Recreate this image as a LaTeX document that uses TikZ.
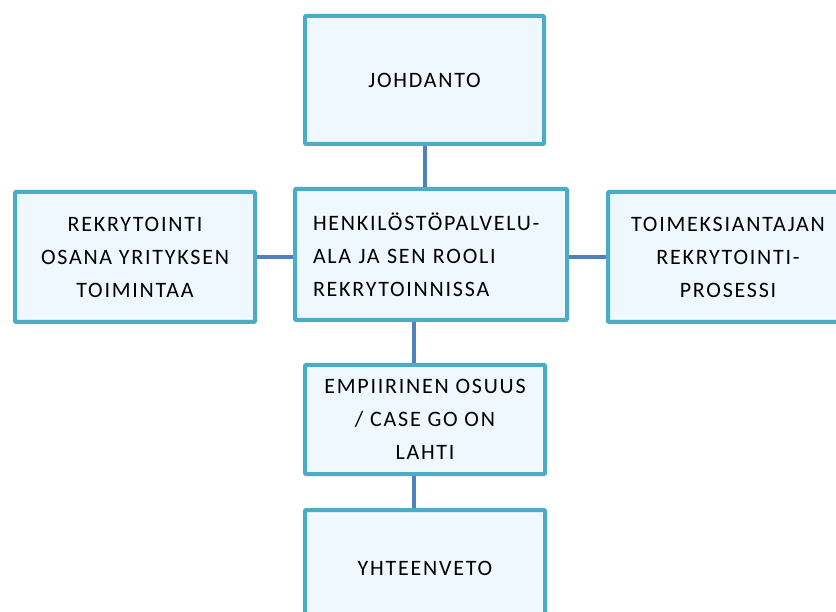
\documentclass[tikz,border=0pt]{standalone}
\usepackage{fontspec}
\setmainfont{Carlito}[LetterSpace=8]
\definecolor{boxline}{HTML}{4BACC6}
\definecolor{boxfill}{HTML}{EEF8FE}
\definecolor{linkline}{HTML}{4F81BD}

\begin{document}
\begin{tikzpicture}[x=1pt,y=-1pt,
    part/.style={draw=boxline, fill=boxfill, line width=4pt, rounded corners=1pt,
      align=center, inner sep=0pt, font=\fontsize{22}{33}\selectfont},
    link/.style={draw=linkline, line width=4pt}]

  \useasboundingbox (0,0) rectangle (836,612);

  \node (johdanto) [part, minimum width=239, minimum height=128] at (424.5,80) {JOHDANTO};
  \node (rekry)    [part, minimum width=240, minimum height=130] at (135,257)
    {REKRYTOINTI\\OSANA YRITYKSEN\\TOIMINTAA};
  \node (henk)     [part, minimum width=272, minimum height=131, align=left,
                    text width=236, inner xsep=18pt] at (431,254.5)
    {HENKILÖSTÖPALVELU-\\ALA JA SEN ROOLI\\REKRYTOINNISSA};
  \node (toim)     [part, minimum width=240, minimum height=130] at (728,257)
    {TOIMEKSIANTAJAN\\REKRYTOINTI-\\PROSESSI};
  \node (empi)     [part, minimum width=240, minimum height=109] at (425,419.5)
    {EMPIIRINEN OSUUS\\/ CASE GO ON\\LAHTI};
  \node (yht)      [part, minimum width=240, minimum height=116] at (425,568)
    {YHTEENVETO};

  %% -- links
  \draw[link] (johdanto.south) -- (johdanto.south |- henk.north);
  \draw[link] (rekry.east) -- (rekry.east -| henk.west);
  \draw[link] (toim.west) -- (toim.west -| henk.east);
  \draw[link] ([xshift=-11pt]empi.north) -- ([xshift=-11pt]empi.north |- henk.south);
  \draw[link] ([xshift=-11pt]empi.south) -- ([xshift=-11pt]empi.south |- yht.north);

\end{tikzpicture}
\end{document}
